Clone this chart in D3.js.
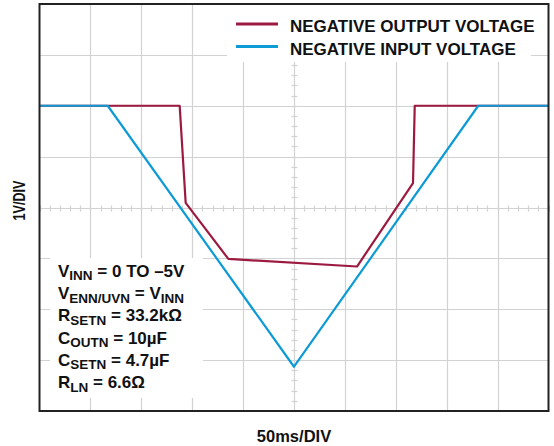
<!DOCTYPE html>
<html>
<head>
<meta charset="utf-8">
<script src="https://cdn.jsdelivr.net/npm/d3@7"></script>
<style>
  html, body { margin: 0; padding: 0; background: #fff; }
  svg { display: block; }
  text { font-family: "Liberation Sans", Arial, Helvetica, sans-serif; font-weight: bold; fill: #111; }
</style>
</head>
<body>
<svg id="chart" width="554" height="446"></svg>
<script>
// Time base: 50 ms per division, 10 divisions; vertical: 1 V per division, 8 divisions
const timeDomain = [0, 500];
const voltDomain = [-6, 2];

// Negative input ramp (ms, V)
const inputTime  = [0, 67, 250, 431, 500];
const inputVolts = [0, 0, -5.13, 0, 0];

// Negative output response (ms, V)
const outputTime  = [0, 67, 137.7, 143.6, 185.5, 311.9, 366.9, 368.6, 500];
const outputVolts = [0, 0, 0, -1.91, -3.01, -3.16, -1.52, 0, 0];

const seriesNames  = ["NEGATIVE OUTPUT VOLTAGE", "NEGATIVE INPUT VOLTAGE"];
const seriesColors = ["#9c1a40", "#0e9bd5"];

// Test-condition lines: [main, subscript, rest, subscript]
const conditions = [
  ["V", "INN", " = 0 TO \u20135V", ""],
  ["V", "ENN/UVN", " = V", "INN"],
  ["R", "SETN", " = 33.2k\u03A9", ""],
  ["C", "OUTN", " = 10\u00B5F", ""],
  ["C", "SETN", " = 4.7\u00B5F", ""],
  ["R", "LN", " = 6.6\u03A9", ""]
];

const xLabel = "50ms/DIV";
const yLabel = "1V/DIV";

const svg = d3.select("#chart");
const plotLeft = 39.5, plotRight = 548.5, plotTop = 4, plotBottom = 411;

const x = d3.scaleLinear().domain(timeDomain).range([plotLeft, plotRight]);
const y = d3.scaleLinear().domain(voltDomain).range([plotBottom, plotTop]);

const gridColor = "#d2d2d2";

// Grid
const grid = svg.append("g");
grid.selectAll("line.v").data(d3.range(50, 500, 50)).join("line")
  .attr("x1", d => Math.round(x(d)) + 0.5).attr("x2", d => Math.round(x(d)) + 0.5)
  .attr("y1", plotTop).attr("y2", plotBottom)
  .attr("stroke", gridColor).attr("stroke-width", 1.2);
grid.selectAll("line.h").data(d3.range(-5, 2, 1)).join("line")
  .attr("y1", d => Math.round(y(d)) + 0.5).attr("y2", d => Math.round(y(d)) + 0.5)
  .attr("x1", plotLeft).attr("x2", plotRight)
  .attr("stroke", gridColor).attr("stroke-width", 1.2);

// Minor ticks on the centre cross-hair
const cx = Math.round(x(250)) + 0.5, cy = Math.round(y(-2)) + 0.5;
grid.selectAll("line.tx").data(d3.range(0, 501, 10)).join("line")
  .attr("x1", d => Math.round(x(d)) + 0.5).attr("x2", d => Math.round(x(d)) + 0.5)
  .attr("y1", cy - 3).attr("y2", cy + 3)
  .attr("stroke", gridColor).attr("stroke-width", 1.2);
grid.selectAll("line.ty").data(d3.range(-6, 2.01, 0.2)).join("line")
  .attr("y1", d => Math.round(y(d)) + 0.5).attr("y2", d => Math.round(y(d)) + 0.5)
  .attr("x1", cx - 3).attr("x2", cx + 3)
  .attr("stroke", gridColor).attr("stroke-width", 1.2);

// White panels behind legend and conditions
svg.append("rect").attr("x", 227).attr("y", plotTop).attr("width", 304).attr("height", 58).attr("fill", "#fff");
svg.append("rect").attr("x", 50).attr("y", 258).attr("width", 153).attr("height", 140).attr("fill", "#fff");

// Traces
const line = d3.line().x(d => x(d[0])).y(d => y(d[1]));
const outPts = outputTime.map((t, i) => [t, outputVolts[i]]);
const inPts  = inputTime.map((t, i) => [t, inputVolts[i]]);
svg.append("path").attr("d", line(outPts)).attr("fill", "none")
  .attr("stroke", seriesColors[0]).attr("stroke-width", 2.2).attr("stroke-linejoin", "round");
svg.append("path").attr("d", line(inPts)).attr("fill", "none")
  .attr("stroke", seriesColors[1]).attr("stroke-width", 2.2).attr("stroke-linejoin", "round");

// Frame
svg.append("rect").attr("x", plotLeft).attr("y", plotTop)
  .attr("width", plotRight - plotLeft).attr("height", plotBottom - plotTop)
  .attr("fill", "none").attr("stroke", "#222").attr("stroke-width", 2);

// Legend
const lg = svg.append("g");
seriesNames.forEach((name, i) => {
  const ly = 24 + i * 22.5;
  lg.append("line").attr("x1", 236).attr("x2", 278).attr("y1", ly).attr("y2", ly)
    .attr("stroke", seriesColors[i]).attr("stroke-width", 3);
  lg.append("text").attr("x", 290).attr("y", ly + 8.3).attr("font-size", 17).text(name);
});

// Conditions block
const cg = svg.append("g");
conditions.forEach((c, i) => {
  const t = cg.append("text").attr("x", 58).attr("y", 276.7 + i * 22.3).attr("font-size", 17);
  t.append("tspan").text(c[0]);
  t.append("tspan").attr("font-size", 13.5).attr("dy", 3.5).text(c[1]);
  t.append("tspan").attr("dy", -3.5).text(c[2]);
  if (c[3]) t.append("tspan").attr("font-size", 13.5).attr("dy", 3.5).text(c[3]);
});

// Axis titles
svg.append("text").attr("x", 294).attr("y", 442).attr("text-anchor", "middle")
  .attr("font-size", 16.5).text(xLabel);
svg.append("text").attr("transform", "translate(25,200.5) rotate(-90)").attr("text-anchor", "middle")
  .attr("font-size", 16.5).attr("textLength", 40).attr("lengthAdjust", "spacingAndGlyphs").text(yLabel);
</script>
</body>
</html>
